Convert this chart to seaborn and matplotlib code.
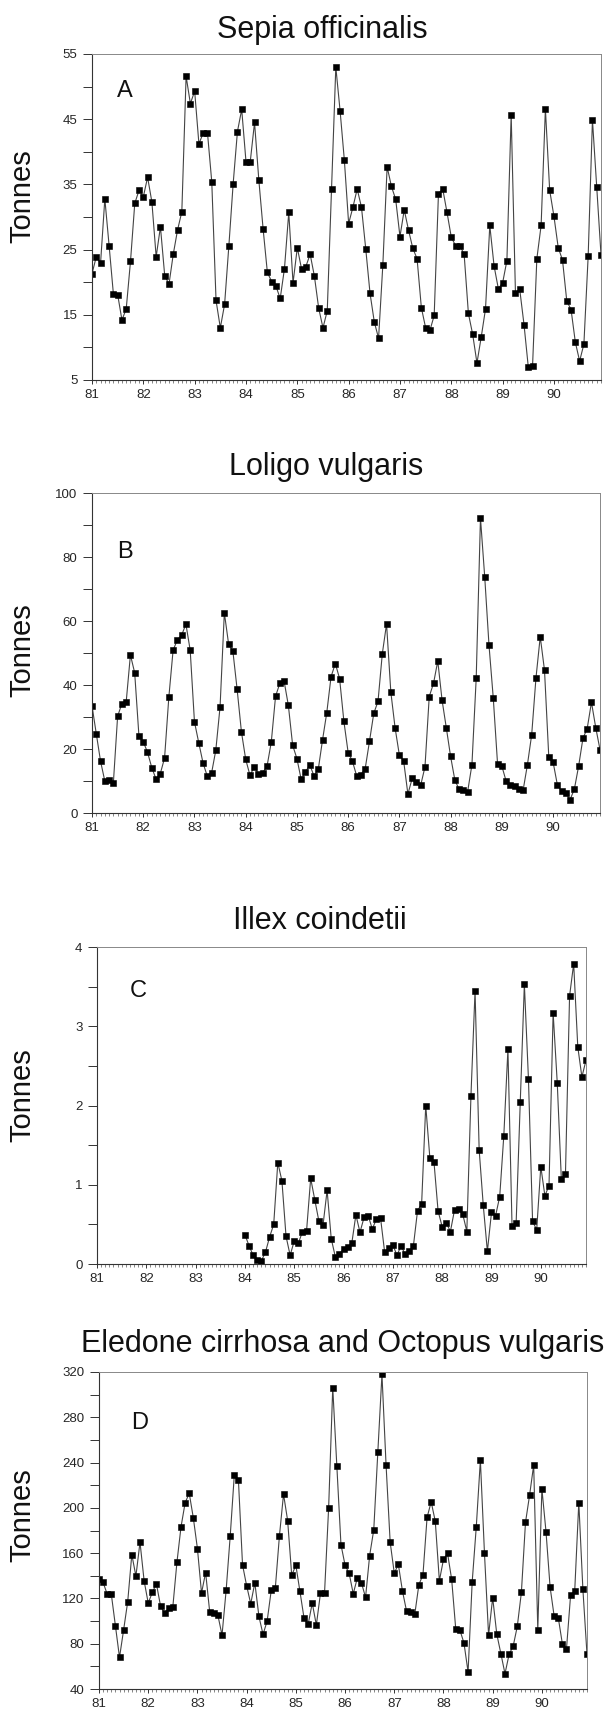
import numpy as np
import pandas as pd
import matplotlib.pyplot as plt
import seaborn as sns
from matplotlib.ticker import MultipleLocator, FixedLocator

sns.set_style("white")
plt.rcParams['font.family'] = ['Liberation Sans', 'DejaVu Sans']

# monthly landings, Jan 1981 - Dec 1990
years = [81, 82, 83, 84, 85, 86, 87, 88, 89, 90]

sepia = [21.3, 23.9, 22.9, 32.8, 25.6, 18.2, 18.1, 14.2, 15.9, 23.2, 32.1, 34.1,
         33.1, 36.1, 32.3, 23.9, 28.5, 21.0, 19.7, 24.3, 28.0, 30.8, 51.6, 47.4,
         49.3, 41.2, 42.9, 42.9, 35.4, 17.2, 13.0, 16.6, 25.6, 35.1, 43.1, 46.5,
         38.5, 38.5, 44.5, 35.7, 28.2, 21.5, 20.1, 19.4, 17.5, 22.1, 30.7, 19.9,
         25.3, 22.0, 22.4, 24.3, 20.9, 16.0, 13.0, 15.6, 34.3, 53.0, 46.3, 38.7,
         29.0, 31.5, 34.3, 31.5, 25.1, 18.3, 13.9, 11.4, 22.7, 37.7, 34.7, 32.7,
         27.0, 31.1, 28.0, 25.2, 23.6, 16.1, 13.0, 12.6, 14.9, 33.6, 34.3, 30.7,
         26.9, 25.6, 25.6, 24.3, 15.2, 12.0, 7.6, 11.6, 15.9, 28.7, 22.5, 19.0,
         19.9, 23.3, 45.7, 18.3, 18.9, 13.5, 7.0, 7.2, 23.6, 28.7, 46.6, 34.1,
         30.1, 25.3, 23.4, 17.1, 15.8, 10.8, 7.9, 10.5, 24.0, 44.9, 34.6, 24.2]

loligo = [33.5, 24.8, 16.2, 10.0, 10.2, 9.3, 30.2, 34.2, 34.6, 49.4, 43.8, 24.0,
          22.3, 19.0, 14.2, 10.6, 12.3, 17.2, 36.2, 50.9, 54.1, 55.6, 59.0, 50.9,
          28.5, 22.0, 15.7, 11.5, 12.4, 19.6, 33.2, 62.6, 52.8, 50.6, 38.6, 25.4,
          16.8, 11.8, 14.3, 12.3, 12.6, 14.6, 22.2, 36.5, 40.5, 41.2, 33.6, 21.2,
          17.0, 10.5, 12.7, 15.1, 11.6, 13.6, 22.8, 31.4, 42.6, 46.7, 42.0, 28.7,
          18.9, 16.2, 11.6, 12.0, 13.9, 22.4, 31.1, 34.9, 49.7, 59.1, 37.8, 26.6,
          18.1, 16.3, 5.9, 10.8, 9.7, 8.7, 14.4, 36.4, 40.5, 47.5, 35.3, 26.6,
          17.7, 10.3, 7.4, 7.3, 6.7, 15.1, 42.1, 92.2, 73.7, 52.4, 35.9, 15.4,
          14.7, 10.0, 8.9, 8.5, 7.6, 7.2, 15.1, 24.5, 42.2, 55.1, 44.6, 17.6,
          16.0, 8.9, 6.8, 6.1, 4.2, 7.5, 14.7, 23.3, 26.4, 34.6, 26.7, 19.8]

illex = [np.nan] * 36 + [
    0.37, 0.23, 0.11, 0.05, 0.04, 0.15, 0.34, 0.50, 1.28, 1.05, 0.35, 0.11,
    0.29, 0.26, 0.41, 0.42, 1.08, 0.81, 0.54, 0.49, 0.93, 0.32, 0.09, 0.13,
    0.19, 0.21, 0.26, 0.62, 0.40, 0.59, 0.61, 0.44, 0.57, 0.58, 0.15, 0.20,
    0.24, 0.11, 0.23, 0.12, 0.16, 0.23, 0.67, 0.76, 2.00, 1.34, 1.29, 0.67,
    0.47, 0.52, 0.41, 0.68, 0.69, 0.63, 0.41, 2.12, 3.45, 1.44, 0.74, 0.16,
    0.65, 0.61, 0.85, 1.62, 2.71, 0.48, 0.52, 2.04, 3.53, 2.33, 0.54, 0.43,
    1.23, 0.86, 0.99, 3.17, 2.29, 1.07, 1.13, 3.38, 3.79, 2.74, 2.36, 2.57]

eledone = [137.6, 134.1, 123.8, 123.8, 95.9, 67.9, 92.1, 117.1, 158.8, 139.7, 169.7, 135.6,
           115.9, 125.3, 132.9, 113.5, 106.8, 111.5, 112.4, 151.8, 183.2, 204.4, 212.9, 191.2,
           164.1, 124.7, 142.9, 107.9, 106.8, 105.0, 87.6, 127.1, 175.3, 229.4, 224.4, 149.7,
           131.2, 115.3, 133.8, 104.1, 88.2, 100.0, 127.1, 129.4, 175.3, 212.1, 188.8, 140.3,
           149.4, 126.2, 102.6, 97.1, 115.9, 96.5, 124.4, 125.0, 200.3, 306.2, 236.8, 167.6,
           149.4, 142.1, 124.1, 138.2, 133.8, 120.9, 157.9, 180.6, 249.7, 317.9, 238.0, 169.7,
           142.4, 150.0, 126.5, 108.8, 107.9, 105.9, 132.1, 140.9, 191.5, 205.3, 188.2, 135.6,
           154.4, 159.7, 136.8, 92.6, 92.1, 80.6, 55.0, 134.4, 183.2, 242.1, 159.7, 87.6,
           120.6, 88.5, 71.2, 53.5, 70.6, 77.9, 95.3, 125.3, 187.1, 211.2, 237.9, 92.4,
           216.8, 179.1, 130.0, 104.1, 102.9, 79.7, 75.6, 122.9, 126.2, 204.7, 127.9, 70.6]

months = 81 + np.arange(len(sepia)) / 12

W, H = 610, 1710
fig = plt.figure(figsize=(W / 100, H / 100), dpi=100)

# title, letter, values, y range, label step, tick step, axes box (px), title pos, tonnes y
panels = [
    ("Sepia officinalis", "A", sepia, (5, 55), 10, 5, (92, 54, 601, 380), (322, 38), 196, (117, 97)),
    ("Loligo vulgaris", "B", loligo, (0, 100), 20, 10, (92, 493, 600, 813), (326, 475), 650, (117, 558)),
    ("Illex coindetii", "C", illex, (0, 4), 1, 0.5, (97, 947, 586, 1264), (320, 929), 1095, (130, 997)),
    ("Eledone cirrhosa and Octopus vulgaris", "D", eledone, (40, 320), 40, 20, (99, 1372, 587, 1689), (343, 1352), 1515, (131, 1429)),
]

for title, letter, vals, ylim, lab_step, tick_step, box, tpos, ty, lpos in panels:
    l, t, r, b = box
    ax = fig.add_axes([l / W, 1 - b / H, (r - l) / W, (b - t) / H])
    df = pd.DataFrame({"month": months, "tonnes": vals})
    sns.lineplot(data=df, x="month", y="tonnes", ax=ax, color="#444444", lw=0.8,
                 marker="s", markersize=4.2, markerfacecolor="black",
                 markeredgecolor="black", mew=0.4)

    ax.set_xlim(months[0], months[-1])
    ax.set_ylim(*ylim)
    ax.xaxis.set_major_locator(FixedLocator(years))
    ax.set_xticklabels([str(y) for y in years])
    ax.xaxis.set_minor_locator(MultipleLocator(1 / 12))
    ax.yaxis.set_major_locator(MultipleLocator(lab_step, offset=ylim[0] % lab_step))
    ax.yaxis.set_minor_locator(MultipleLocator(tick_step))
    ax.set_yticks(np.arange(ylim[0], ylim[1] + lab_step / 2, lab_step))

    ax.tick_params(axis="y", which="both", direction="out", length=6.5, width=0.7,
                   color="#333333", labelsize=9.5, pad=4, left=True)
    ax.tick_params(axis="x", which="major", direction="out", length=3.2, width=0.7,
                   color="#333333", labelsize=9.5, pad=3.5, bottom=True)
    ax.tick_params(axis="x", which="minor", direction="out", length=1.8, width=0.5,
                   color="#555555", bottom=True)
    ax.set_xlabel("")
    ax.set_ylabel("")

    for side in ["left", "bottom"]:
        ax.spines[side].set_color("#333333")
        ax.spines[side].set_linewidth(0.8)
    for side in ["top", "right"]:
        ax.spines[side].set_color("#888888")
        ax.spines[side].set_linewidth(0.7)

    fig.text(tpos[0] / W, 1 - tpos[1] / H, title, ha="center", va="baseline",
             fontsize=22, color="#111111")
    fig.text(lpos[0] / W, 1 - lpos[1] / H, letter, ha="left", va="baseline",
             fontsize=17, color="#111111")
    fig.text(22 / W, 1 - ty / H, "Tonnes", rotation=90, ha="center", va="center",
             fontsize=21, color="#111111")

fig.savefig("out.png", dpi=100)
